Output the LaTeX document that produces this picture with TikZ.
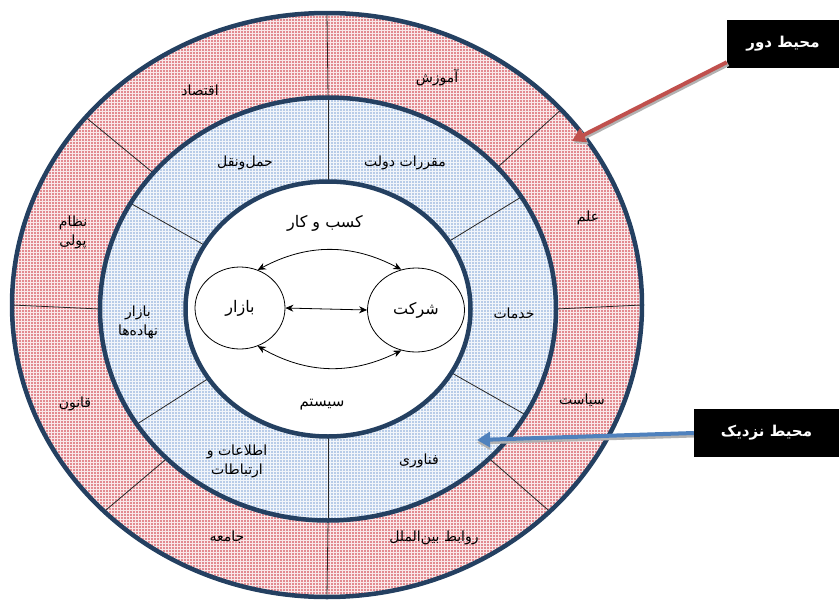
\documentclass[tikz,border=0pt]{standalone}
\usepackage{fontspec}
\usetikzlibrary{calc,shapes.geometric,arrows.meta,patterns}
\newfontfamily\arabicfont[Script=Arabic]{DejaVu Sans}
\TeXXeTstate=1
\newcommand{\fa}[1]{{\arabicfont\beginR #1\endR}}
\definecolor{navy}{RGB}{36,64,97}
\definecolor{ringpink}{RGB}{226,138,144}
\definecolor{ringblue}{RGB}{184,204,232}
\definecolor{arrred}{RGB}{192,80,77}
\definecolor{arrblue}{RGB}{79,129,189}
\begin{document}
\begin{tikzpicture}[x=1pt,y=-1pt,
  ringborder/.style={draw=navy,line width=4.5pt},
  divider/.style={draw=black!85,line width=0.8pt},
  lbl/.style={font=\fontsize{14}{19}\selectfont,align=center,inner sep=1pt,text=black},
  smallc/.style={ellipse,draw=black,line width=0.8pt,fill=white,inner sep=0pt,font=\fontsize{16}{18}\selectfont},
  biarrow/.style={draw=black,line width=0.8pt,{Stealth[length=8pt,width=7pt]}-{Stealth[length=8pt,width=7pt]}},
  tagbox/.style={fill=black,text=white,inner sep=0pt,font=\bfseries\fontsize{15}{17}\selectfont},
  thickarrow/.style={line width=4pt,-{Triangle[width=15pt,length=13pt]}}
]
\useasboundingbox (0,0) rectangle (839,600);
\coordinate (C) at (328,309);
\coordinate (O) at (327,305);
% rings
\fill[ringpink] (O) ellipse [x radius=315pt, y radius=292pt];
\fill[pattern=grid, pattern color=white!80!ringpink] (O) ellipse [x radius=315pt, y radius=292pt];
\fill[ringblue] (C) ellipse [x radius=228pt, y radius=211.5pt];
\fill[pattern=grid, pattern color=white!80!ringblue] (C) ellipse [x radius=228pt, y radius=211.5pt];
\fill[white] (C) ellipse [x radius=142.5pt, y radius=127.5pt];
% dividers
\foreach \a in {0,42,90,140,180,225,270,315}
  \draw[divider] ($(C)+(\a:228pt and 211.5pt)$) -- ($(O)+(\a:315pt and 292pt)$);
\foreach \a in {32,90,150,213,270,330}
  \draw[divider] ($(C)+(\a:142.5pt and 127.5pt)$) -- ($(C)+(\a:228pt and 211.5pt)$);
% borders
\draw[ringborder] (O) ellipse [x radius=315pt, y radius=292pt];
\draw[ringborder] (C) ellipse [x radius=228pt, y radius=211.5pt];
\draw[ringborder] (C) ellipse [x radius=142.5pt, y radius=127.5pt];
% outer ring labels
\node[lbl] (eghtesad) at (200,90) {\fa{اقتصاد}};
\node[lbl] (amuzesh) at (437,78) {\fa{آموزش}};
\node[lbl] (elm) at (588,218) {\fa{علم}};
\node[lbl] (siasat) at (582,400) {\fa{سیاست}};
\node[lbl] (ravabet) at (434,538) {\fa{روابط بین^^^^200cالملل}};
\node[lbl] (jamee) at (227,537) {\fa{جامعه}};
\node[lbl] (ghanun) at (75,404) {\fa{قانون}};
\node[lbl] (nezam) at (73,232) {\fa{نظام}\\\fa{پولی}};
% middle ring labels
\node[lbl] (haml) at (245,163) {\fa{حمل^^^^200cونقل}};
\node[lbl] (moghararat) at (405,163) {\fa{مقررات دولت}};
\node[lbl] (khadamat) at (514,313) {\fa{خدمات}};
\node[lbl] (fanavari) at (419,461) {\fa{فناوری}};
\node[lbl] (ettelaat) at (237,461) {\fa{اطلاعات و}\\\fa{ارتباطات}};
\node[lbl] (nahade) at (138,322) {\fa{بازار}\\\fa{نهاده^^^^200cها}};
% inner system
\node[lbl,font=\fontsize{16}{18}\selectfont] (kasb) at (325,223) {\fa{کسب و کار}};
\node[lbl,font=\fontsize{15}{18}\selectfont] (system) at (322,405) {\fa{سیستم}};
\node[smallc,minimum width=90pt,minimum height=82pt] (bazar) at (240,308) {\fa{بازار}};
\node[smallc,minimum width=97pt,minimum height=84pt] (sherkat) at (416,310) {\fa{شرکت}};
\draw[biarrow] (bazar.65) to[bend left=28] (sherkat.110);
\draw[biarrow] (bazar.-65) to[bend right=28] (sherkat.-110);
\draw[biarrow] (bazar.east) -- (sherkat.west);
% tags
\node[tagbox,minimum width=112pt,minimum height=48pt] (far) at (783,44) {\fa{محیط دور}};
\node[tagbox,minimum width=145pt,minimum height=48pt] (near) at (766.5,433) {\fa{محیط نزدیک}};
\coordinate (farStart) at ($(far.south west)+(0,-6)$);
\coordinate (farTip) at (572,141);
\coordinate (nearTip) at (477,440);
\draw[thickarrow,gray!60] ([shift={(1.5,2)}]farStart) -- ([shift={(1.5,2)}]farTip);
\draw[thickarrow,arrred] (farStart) -- (farTip);
\draw[thickarrow,gray!60] ([shift={(0,2.5)}]near.west) -- ([shift={(0,2.5)}]nearTip);
\draw[thickarrow,arrblue] (near.west) -- (nearTip);
\end{tikzpicture}
\end{document}
